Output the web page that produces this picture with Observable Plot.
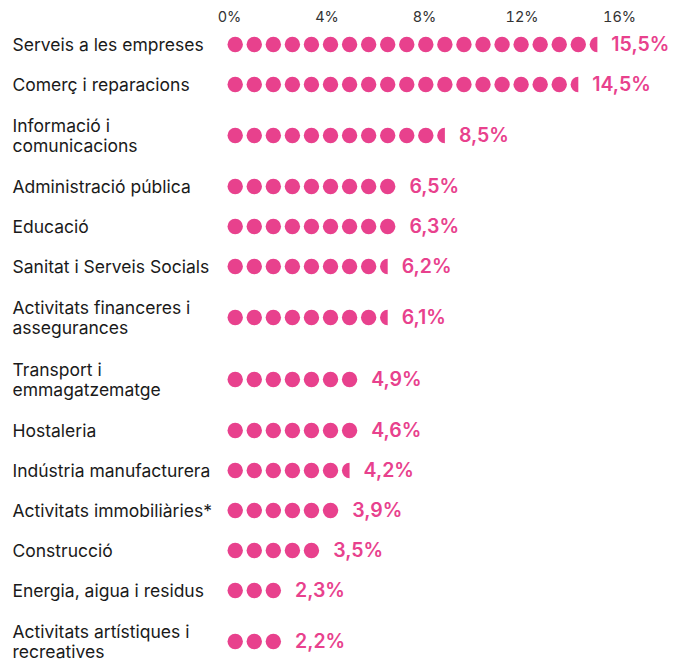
<!DOCTYPE html>
<html>
<head>
<meta charset="utf-8">
<script src="https://cdn.jsdelivr.net/npm/d3@7"></script>
<script src="https://cdn.jsdelivr.net/npm/@observablehq/plot@0.6"></script>
<style>
  html, body { margin: 0; padding: 0; background: #fff; }
  #chart svg { display: block; }
</style>
</head>
<body>
<div id="chart"></div>
<script>
const categories = [
  "Serveis a les empreses",
  "Comerç i reparacions",
  "Informació i\ncomunicacions",
  "Administració pública",
  "Educació",
  "Sanitat i Serveis Socials",
  "Activitats financeres i\nassegurances",
  "Transport i\nemmagatzematge",
  "Hostaleria",
  "Indústria manufacturera",
  "Activitats immobiliàries*",
  "Construcció",
  "Energia, aigua i residus",
  "Activitats artístiques i\nrecreatives"
];
const values = [15.5, 14.5, 8.5, 6.5, 6.3, 6.2, 6.1, 4.9, 4.6, 4.2, 3.9, 3.5, 2.3, 2.2];
// number of dots drawn in each row (5 = half dot)
const dotCounts = [19.5, 18.5, 11.5, 9, 9, 8.5, 8.5, 7, 7, 6.5, 6, 5, 3, 3];
const tickValues = [0, 4, 8, 12, 16];
const tickLabels = ["0%", "4%", "8%", "12%", "16%"];

const PINK = "#e8418d";
const FONT = "Inter, 'Open Sans', sans-serif";
const W = 677, H = 662;
const mLeft = 229, mRight = 58, mTop = 24;
const pxPerPct = (W - mLeft - mRight) / 16;
const pitchPx = 19.06, rPx = 7.7;
const dotUnit = pitchPx / pxPerPct;   // one dot step in % units
const startOff = 0.3;                 // first dot centre offset, in dot steps

// row layout: single-line rows 40px, two-line rows 62px
let acc = 0;
const rows = categories.map((c, i) => {
  const lines = c.split("\n").length;
  const h = lines > 1 ? 62 : 40;
  const y = acc + h / 2;
  acc += h;
  const n = dotCounts[i];
  const half = n % 1 !== 0;
  const endDots = half ? Math.floor(n) + startOff : n - 1 + startOff + rPx / pitchPx;
  return {category: c, value: values[i], label: values[i].toFixed(1).replace(".", ",") + "%", y, n, half, end: endDots * dotUnit};
});
const total = acc;

const fullDots = [], halfDots = [];
rows.forEach(r => {
  const k = Math.ceil(r.n);
  for (let i = 0; i < k; i++) {
    const d = {x: (i + startOff) * dotUnit, y: r.y};
    if (r.half && i === k - 1) halfDots.push(d); else fullDots.push(d);
  }
});

const leftHalf = {
  draw(context, size) {
    const r = Math.sqrt(size / Math.PI);
    context.moveTo(0, -r);
    context.arc(0, 0, r, -Math.PI / 2, Math.PI / 2, true);
    context.closePath();
  }
};

const chart = Plot.plot({
  width: W,
  height: H,
  marginLeft: mLeft,
  marginRight: mRight,
  marginTop: mTop,
  marginBottom: H - mTop - total,
  style: {fontFamily: FONT, background: "#fff"},
  x: {domain: [0, 16], axis: null},
  y: {domain: [0, total], reverse: true, axis: null},
  marks: [
    Plot.axisX({
      anchor: "top",
      ticks: tickValues,
      tickFormat: (d) => tickLabels[tickValues.indexOf(d)],
      tickSize: 0,
      tickPadding: 3,
      fontSize: 14.5,
      fill: "#333",
      label: null
    }),
    Plot.dot(fullDots, {x: "x", y: "y", r: rPx, fill: PINK, stroke: null}),
    Plot.dot(halfDots, {x: "x", y: "y", r: rPx, fill: PINK, stroke: null, symbol: leftHalf}),
    Plot.text(rows, {
      y: "y",
      text: "category",
      frameAnchor: "left",
      textAnchor: "start",
      lineAnchor: "middle",
      dx: 12 - mLeft,
      fontSize: 17.5,
      lineHeight: 1.14,
      fill: "#1a1a1a",
      fontFamily: FONT
    }),
    Plot.text(rows, {
      x: "end",
      y: "y",
      text: "label",
      textAnchor: "start",
      lineAnchor: "middle",
      dx: 14,
      fontSize: 19.5,
      fontWeight: 600,
      fill: PINK,
      fontFamily: FONT
    })
  ]
});
document.getElementById("chart").append(chart);
</script>
</body>
</html>
